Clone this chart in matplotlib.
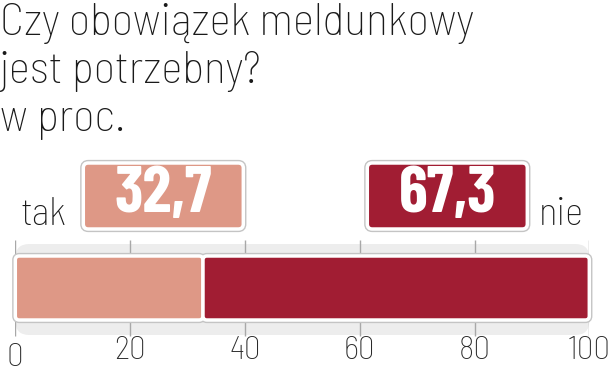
import matplotlib
matplotlib.use('Agg')
import matplotlib.pyplot as plt
from matplotlib.patches import FancyBboxPatch

title_lines = ['Czy obowiązek meldunkowy', 'jest potrzebny?', 'w proc.']
labels = ['tak', 'nie']
values = [32.7, 67.3]
value_labels = ['32,7', '67,3']
ticks = [0, 20, 40, 60, 80, 100]
colors = ['#DE9886', '#A11D33']

plt.rcParams['font.family'] = ['Barlow Semi Condensed', 'DejaVu Sans']
NUM_FONT = ['Barlow Condensed', 'DejaVu Sans']

W, H = 614, 373
X0, X1 = 15.3, 589.3          # pixel position of 0 and 100
SX = (X1 - X0) / 100.0        # pixels per unit

fig = plt.figure(figsize=(W / 100, H / 100), dpi=100)
ax = fig.add_axes([X0 / W, 0, (X1 - X0) / W, 1])
ax.set_xlim(0, 100)
ax.set_ylim(H, 0)             # y in pixels from the top
ax.axis('off')

def rbox(x, y, w, h, r, **kw):
    p = FancyBboxPatch((x, y), w, h, boxstyle='round,pad=0,rounding_size=%f' % (r / SX),
                       mutation_aspect=SX, clip_on=False, **kw)
    ax.add_patch(p)
    return p

# title
for i, line in enumerate(title_lines):
    fig.text(0 / W, 1 - (35 + 48 * i) / H, line, fontsize=33, fontweight='light',
             color='#1a1a1a', ha='left', va='baseline')

# grey track behind the bar
rbox(0, 244, 100, 91, 14, fc='#EDEDED', ec='none', zorder=0)

# ticks
ax.vlines(ticks, 240, 336, color='#a8a8a8', lw=1, zorder=1)
for t in ticks:
    ax.text(t, 358 if t == 0 else 351, str(t), fontsize=24, fontweight='light',
            color='#2a2a2a', ha='center', va='center')

# stacked bar
left = 0
for v, c in zip(values, colors):
    rbox(left, 256, v, 64, 4, fc='none', ec='#c4c4c4', lw=4.5, zorder=2)
    rbox(left, 256, v, 64, 4, fc=c, ec='white', lw=2.5, zorder=3)
    left += v

# value boxes
box_px = [83.3, 367.3]
for bx, lab, c in zip(box_px, value_labels, colors):
    xl = (bx - X0) / SX
    w = 160 / SX
    rbox(xl, 163, w, 66, 5, fc='none', ec='#c4c4c4', lw=4.5, zorder=2)
    rbox(xl, 163, w, 66, 5, fc=c, ec='white', lw=2.5, zorder=3)
    ax.text(xl + w / 2, 196, lab, fontsize=47, fontweight='bold', color='white',
            family=NUM_FONT, ha='center', va='center', zorder=4)

# side labels
for lab, px in zip(labels, [20, 539]):
    ax.text((px - X0) / SX, 225, lab, fontsize=28, fontweight='light', color='#1a1a1a',
            ha='left', va='baseline')

fig.savefig('out.png', dpi=100, facecolor='white')
